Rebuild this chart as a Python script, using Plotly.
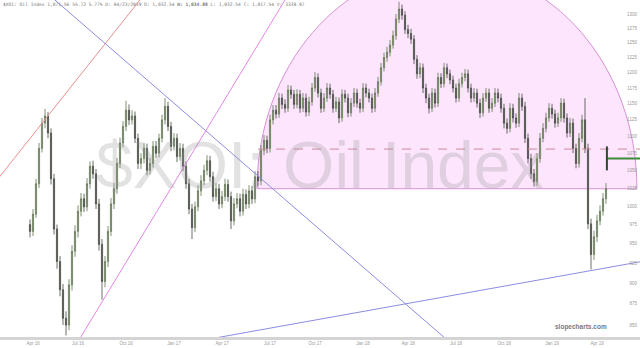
import math
import plotly.graph_objects as go

# ---------------- data ----------------
bar_index = list(range(193))
open_ = [975,966,989,1031,1082,1120,1131,1105,1038,969,927,892,858,850,898,940,966,993,1010,999,
         1031,1056,1045,1003,949,902,927,966,1003,1024,1060,1090,1115,1140,1125,1131,1097,1060,1067,1082,
         1050,1060,1085,1075,1097,1125,1146,1115,1085,1097,1070,1082,1056,1031,996,971,999,1021,1035,1050,
         1064,1041,1013,1024,1003,1013,1030,1013,980,1003,1010,993,1016,1003,1021,1010,1041,1035,1079,1094,
         1082,1125,1140,1134,1159,1149,1143,1172,1165,1149,1165,1143,1159,1137,1153,1175,1192,1167,1143,1159,
         1175,1165,1143,1153,1128,1165,1159,1136,1151,1167,1151,1143,1175,1167,1159,1143,1167,1185,1208,1225,
         1234,1246,1262,1291,1309,1298,1273,1266,1256,1222,1198,1208,1175,1159,1143,1167,1151,1192,1182,1208,
         1198,1188,1175,1159,1182,1192,1198,1175,1159,1167,1151,1136,1159,1167,1143,1151,1167,1159,1143,1120,
         1112,1143,1128,1120,1159,1146,1097,1067,1045,1034,1067,1097,1112,1128,1143,1134,1120,1128,1151,1128,
         1105,1120,1082,1060,1097,1125,1082,976,936,959,980,993,1010]
high = [982,996,1038,1090,1128,1142,1137,1112,1045,975,934,899,866,905,948,974,1001,1018,1017,1039,
        1063,1064,1052,1010,956,934,973,1011,1032,1068,1098,1123,1155,1149,1140,1138,1104,1075,1090,1089,
        1068,1093,1093,1104,1133,1159,1153,1122,1105,1104,1090,1089,1063,1038,1003,1006,1029,1043,1058,1072,
        1071,1048,1032,1031,1021,1038,1037,1020,1011,1018,1017,1024,1023,1029,1028,1049,1049,1087,1102,1101,
        1133,1148,1148,1167,1166,1157,1180,1179,1172,1173,1172,1167,1166,1161,1183,1201,1199,1174,1167,1183,
        1182,1172,1161,1160,1173,1172,1166,1159,1175,1174,1158,1183,1182,1174,1166,1175,1193,1216,1233,1243,
        1255,1271,1300,1322,1317,1305,1281,1274,1263,1229,1216,1215,1182,1166,1175,1174,1200,1199,1216,1215,
        1205,1195,1182,1190,1200,1206,1205,1182,1175,1174,1158,1167,1175,1174,1159,1175,1174,1166,1150,1127,
        1151,1150,1135,1167,1166,1153,1104,1074,1052,1075,1105,1120,1136,1151,1150,1141,1136,1159,1158,1135,
        1128,1127,1089,1105,1133,1159,1089,983,967,988,1001,1018,1032]
low = [958,960,984,1025,1076,1112,1097,1030,962,918,884,850,838,844,891,933,958,986,992,993,
       1024,1038,996,941,880,895,920,960,996,1017,1053,1084,1108,1117,1118,1090,1052,1052,1060,1043,
       1044,1054,1068,1069,1091,1118,1108,1078,1079,1062,1064,1049,1024,989,956,965,993,1014,1029,1043,
       1034,1006,1007,996,997,1007,1006,969,974,997,986,987,996,997,1003,1004,1028,1029,1072,1075,
       1076,1118,1127,1128,1142,1136,1137,1158,1142,1143,1136,1137,1130,1131,1147,1169,1160,1136,1137,1153,
       1158,1136,1137,1120,1122,1152,1129,1130,1145,1144,1136,1137,1160,1152,1136,1137,1161,1179,1202,1218,
       1227,1240,1255,1284,1290,1265,1258,1248,1214,1190,1191,1167,1151,1135,1137,1144,1145,1175,1176,1191,
       1181,1168,1152,1153,1176,1186,1168,1152,1153,1144,1128,1130,1153,1136,1137,1145,1152,1136,1112,1104,
       1106,1121,1113,1114,1139,1090,1060,1038,1027,1028,1061,1091,1106,1122,1127,1113,1114,1122,1121,1098,
       1099,1075,1053,1054,1091,1075,969,917,929,952,974,987,1003]
close = [966,989,1031,1082,1120,1131,1105,1038,969,927,892,858,850,898,940,966,993,1010,999,1031,
         1056,1045,1003,949,902,927,966,1003,1024,1060,1090,1115,1140,1125,1131,1097,1060,1067,1082,1050,
         1060,1085,1075,1097,1125,1146,1115,1085,1097,1070,1082,1056,1031,996,971,999,1021,1035,1050,1064,
         1041,1013,1024,1003,1013,1030,1013,980,1003,1010,993,1016,1003,1021,1010,1041,1035,1079,1094,1082,
         1125,1140,1134,1159,1149,1143,1172,1165,1149,1165,1143,1159,1137,1153,1175,1192,1167,1143,1159,1175,
         1165,1143,1153,1128,1165,1159,1136,1151,1167,1151,1143,1175,1167,1159,1143,1167,1185,1208,1225,1234,
         1246,1262,1291,1309,1298,1273,1266,1256,1222,1198,1208,1175,1159,1143,1167,1151,1192,1182,1208,1198,
         1188,1175,1159,1182,1192,1198,1175,1159,1167,1151,1136,1159,1167,1143,1151,1167,1159,1143,1120,1112,
         1143,1128,1120,1159,1146,1097,1067,1045,1034,1067,1097,1112,1128,1143,1134,1120,1128,1151,1128,1105,
         1120,1082,1060,1097,1125,1082,976,936,959,980,993,1010,1024]

x_tick_pos = [1, 16, 32, 48, 64, 80, 95, 111, 126, 142, 158, 174, 189]
x_tick_labels = ["Apr 16", "Jul 16", "Oct 16", "Jan 17", "Apr 17", "Jul 17", "Oct 17",
                 "Jan 18", "Apr 18", "Jul 18", "Oct 18", "Jan 19", "Apr 19"]
y_tick_vals = [850, 875, 900, 925, 950, 975, 1000, 1025, 1050, 1075, 1100, 1125,
               1150, 1175, 1200, 1225, 1250, 1275, 1300]

# drawn trendlines: (bar index, price) endpoints
red_line_x = [-13.3, 41.5]
red_line_y = [1024, 1359]
blue_line1_x = [3.3, 141.7]
blue_line1_y = [1349, 825]
pink_line_x = [15.3, 87.3]
pink_line_y = [827, 1346]
blue_line2_x = [60, 206.7]
blue_line2_y = [834, 929]
dashed_x = [76, 206]
dashed_y = [1081, 1081]
last_x = [192.3, 206]
last_y = [1067, 1067]
last_tick_x = [192.3, 192.3]
last_tick_y = [1050, 1085]
# half-circle drawing: centre bar, horizontal radius (bars), base price, top price
arc_center = 139
arc_radius = 63.3
arc_base = 1024
arc_top = 1385

header = ("$XOI: Oil Index 1,071.56 55.72 5.77% D: 04/23/2019 O: 1,032.54 "
          "<b>H: 1,034.88</b> L: 1,032.54 C: 1,017.54 V: 3339.97")

# ---------------- figure ----------------
fig = go.Figure()

fig.add_trace(go.Candlestick(
    x=bar_index, open=open_, high=high, low=low, close=close,
    increasing=dict(line=dict(color="#5f7450", width=0.8), fillcolor="#a9b99a"),
    decreasing=dict(line=dict(color="#454a42", width=0.8), fillcolor="#5d6358"),
    whiskerwidth=0, showlegend=False, hoverinfo="skip"))

def seg(xs, ys, color, width=1, dash=None):
    fig.add_trace(go.Scatter(x=xs, y=ys, mode="lines", showlegend=False,
                             hoverinfo="skip",
                             line=dict(color=color, width=width, dash=dash)))

seg(red_line_x, red_line_y, "#e89090")
seg(blue_line1_x, blue_line1_y, "#8c8ce4")
seg(pink_line_x, pink_line_y, "#e485e4")
seg(blue_line2_x, blue_line2_y, "#8c8ce4")
seg(dashed_x, dashed_y, "#cc8a9a", 1, "dash")
seg(last_x, last_y, "#3d8a3d", 2)
seg(last_tick_x, last_tick_y, "#2f4a2f", 2)

# half ellipse as bezier path (data coords, log-interpolated control heights)
k = 0.5523
lb, lt = math.log10(arc_base), math.log10(arc_top)
ctrl = 10 ** (lb + k * (lt - lb))
xl, xr = arc_center - arc_radius, arc_center + arc_radius
path = (f"M {xl},{arc_base} C {xl},{ctrl} {arc_center - k*arc_radius},{arc_top} {arc_center},{arc_top} "
        f"C {arc_center + k*arc_radius},{arc_top} {xr},{ctrl} {xr},{arc_base} Z")
fig.add_shape(type="path", path=path, xref="x", yref="y",
              fillcolor="rgba(248,150,248,0.25)",
              line=dict(color="#d890d8", width=1), layer="below")

fig.add_annotation(text="$XOI: Oil Index", x=0.5, y=0.51, xref="paper", yref="paper",
                   showarrow=False, font=dict(family="Liberation Sans", size=66,
                                              color="rgba(150,150,150,0.28)"))
fig.add_annotation(text=header, x=0.002, y=1.0, xref="paper", yref="paper",
                   xanchor="left", yanchor="top", showarrow=False, align="left",
                   font=dict(family="DejaVu Sans Mono", size=4.6, color="#777777"))
fig.add_annotation(text="<b>slopecharts.com</b>", x=0.951, y=0.03, xref="paper", yref="paper",
                   xanchor="right", yanchor="middle", showarrow=False,
                   font=dict(family="Liberation Sans", size=6.5, color="#7a7a7a"))

lo, hi = math.log10(836.2), math.log10(1325.2)
fig.update_layout(
    width=640, height=348,
    margin=dict(l=0, r=0, t=0, b=11),
    paper_bgcolor="white", plot_bgcolor="white",
    boxgap=0.45,
    xaxis=dict(range=[-10, 203.33], tickvals=x_tick_pos, ticktext=x_tick_labels,
               showgrid=False, zeroline=False, showline=True, linecolor="#d4d4d4",
               linewidth=3, ticks="", tickfont=dict(size=4.5, color="#999999",
                                                   family="Liberation Sans"),
               rangeslider=dict(visible=False)),
    yaxis=dict(type="log", range=[lo, hi], tickvals=y_tick_vals,
               ticktext=[str(v) for v in y_tick_vals],
               side="right", ticklabelposition="inside", showgrid=False,
               zeroline=False, showline=False, ticks="",
               tickfont=dict(size=4.5, color="#999999", family="Liberation Sans")),
)

fig.write_html("out.html")
